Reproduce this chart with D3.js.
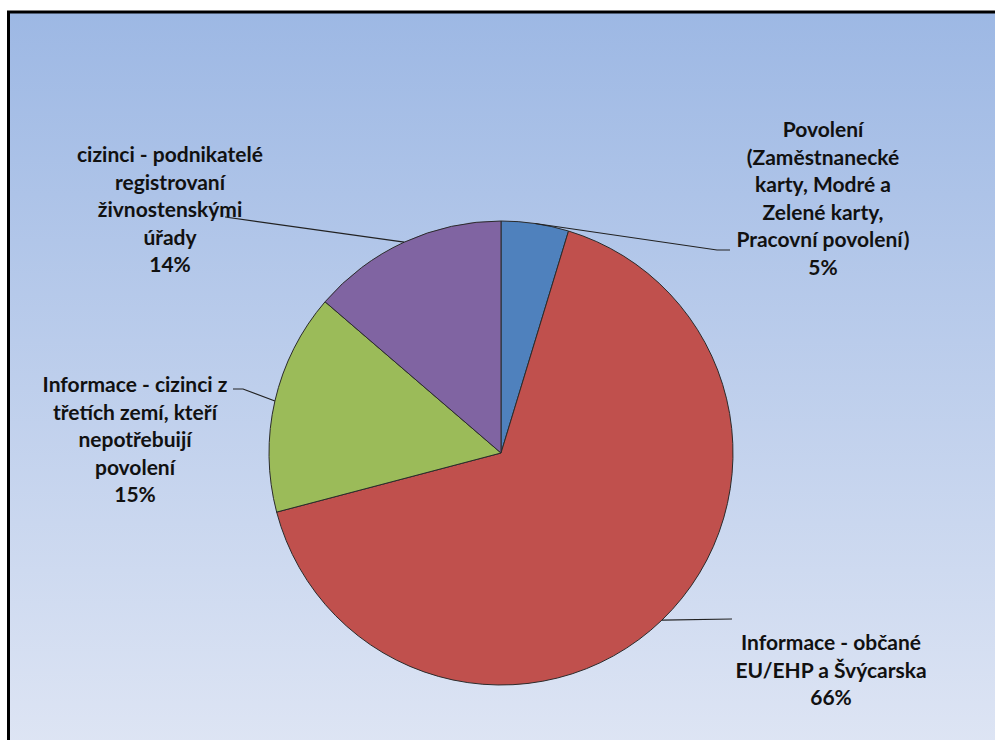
<!DOCTYPE html>
<html><head><meta charset="utf-8">
<script src="https://cdn.jsdelivr.net/npm/d3@7/dist/d3.min.js"></script>
<style>body{margin:0;background:#fff;overflow:hidden}</style>
</head><body>
<svg id="c" width="995" height="740"></svg>
<script>
const categories = [
  "Povolení (Zaměstnanecké karty, Modré a Zelené karty, Pracovní povolení)",
  "Informace - občané EU/EHP a Švýcarska",
  "Informace - cizinci z třetích zemí, kteří nepotřebuijí povolení",
  "cizinci - podnikatelé registrovaní živnostenskými úřady"
];
const values = [4.7, 66.2, 15.4, 13.7];
const percentLabels = ["5%", "66%", "15%", "14%"];
const labelLines = [
  ["Povolení", "(Zaměstnanecké", "karty, Modré a", "Zelené karty,", "Pracovní povolení)"],
  ["Informace - občané", "EU/EHP a Švýcarska"],
  ["Informace - cizinci z", "třetích zemí, kteří", "nepotřebuijí", "povolení"],
  ["cizinci - podnikatelé", "registrovaní", "živnostenskými", "úřady"]
];
const colors = ["#4F81BD", "#C0504D", "#9BBB59", "#8064A2"];

const svg = d3.select("#c");
const defs = svg.append("defs");
const g = defs.append("linearGradient").attr("id","bg").attr("x1",0).attr("y1",0).attr("x2",0).attr("y2",1);
g.append("stop").attr("offset","0%").attr("stop-color","#9DB8E4");
g.append("stop").attr("offset","100%").attr("stop-color","#DEE5F4");
svg.append("rect").attr("x",8.5).attr("y",12).attr("width",1000).attr("height",740)
  .attr("fill","url(#bg)").attr("stroke","#000").attr("stroke-width",3);

const cx = 501, cy = 453, R = 232;
const pie = d3.pie().sort(null).value(d => d)(values);
const arc = d3.arc().innerRadius(0).outerRadius(R);
const root = svg.append("g").attr("transform",`translate(${cx},${cy})`);
root.selectAll("path").data(pie).join("path")
  .attr("d", arc).attr("fill",(d,i)=>colors[i])
  .attr("stroke","#2b2b2b").attr("stroke-width",1);

// label layout (positions only)
const layout = [
  {x:823, y:137, elbow:[[717,250],[730,250]]},
  {x:831, y:650, elbow:[[732,619]]},
  {x:135, y:392, elbow:[[243,389],[233,389]]},
  {x:170, y:162, elbow:[[225,217]]}
];
const lineH = 27.6;
pie.forEach((d,i)=>{
  const a = (d.startAngle + d.endAngle)/2;
  const p0 = [cx + R*Math.sin(a), cy - R*Math.cos(a)];
  const pts = [p0, ...layout[i].elbow];
  svg.append("path").attr("d", d3.line()(pts)).attr("fill","none")
    .attr("stroke","#222").attr("stroke-width",1.2);
  const t = svg.append("text").attr("text-anchor","middle")
    .attr("font-family","Lato, 'Open Sans', sans-serif").attr("font-weight","bold")
    .attr("font-size",21).attr("fill","#111");
  const lines = [...labelLines[i], percentLabels[i]];
  lines.forEach((s,k)=>{
    t.append("tspan").attr("x",layout[i].x).attr("y",layout[i].y + k*lineH).text(s);
  });
});
</script>
</body></html>
